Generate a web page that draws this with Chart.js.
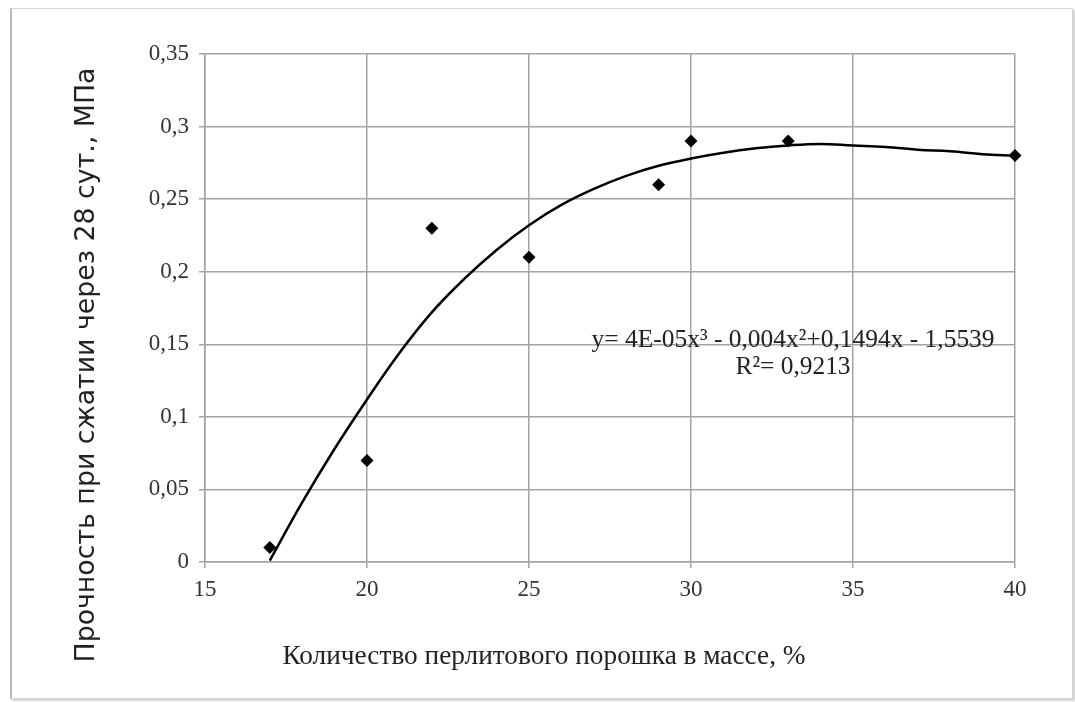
<!DOCTYPE html>
<html>
<head>
<meta charset="utf-8">
<script src="https://cdn.jsdelivr.net/npm/chart.js@4/dist/chart.umd.min.js"></script>
<style>
  body { margin: 0; background: #fff; }
  #ramka {
    position: absolute; left: 10px; top: 8px; width: 1060px; height: 689px;
    border: 1px solid #d6d6d6;
    border-left: 2px solid #b8b8b8;
    box-shadow: 2px 2px 2px #cfcfcf;
  }
  #myChart { position: absolute; left: 0; top: 0; }
</style>
</head>
<body>
<div id="ramka"></div>
<canvas id="myChart" width="1075" height="702"></canvas>
<script>
// количество перлитового порошка, % и прочность, МПа
const kolichestvo = [17, 20, 22, 25, 29, 30, 33, 40];
const prochnost = [0.01, 0.07, 0.23, 0.21, 0.26, 0.29, 0.29, 0.28];

// линия тренда (полином 3-й степени), снятая по точкам
const trendX = [17, 18, 19, 20, 21, 22, 23, 24, 25, 26, 27, 28, 29, 30, 31, 32, 33, 34, 35, 36, 37, 38, 39, 40];
const trendY = [0.001, 0.041, 0.078, 0.112, 0.144, 0.172, 0.195, 0.215, 0.232, 0.246, 0.257, 0.266, 0.273, 0.278,
  0.282, 0.285, 0.287, 0.288, 0.287, 0.286, 0.284, 0.283, 0.281, 0.280];

const ejeX = [15, 20, 25, 30, 35, 40];
const ejeY = [0, 0.05, 0.1, 0.15, 0.2, 0.25, 0.3, 0.35];

const tituloX = "Количество перлитового порошка в массе, %";
const tituloY = "Прочность при сжатии через 28 сут., МПа";
const ecuacion = "y= 4E-05x³ - 0,004x²+0,1494x - 1,5539";
const r2 = "R²= 0,9213";

const colorGrid = "#a3a3a3";
const fuenteSerif = "'Liberation Serif', 'Times New Roman', serif";

function coma(v) {
  return String(+v.toFixed(2)).replace(".", ",");
}

// подписи осей и уравнение тренда
const textos = {
  id: "textos",
  afterDraw(chart) {
    const ctx = chart.ctx;
    const sx = chart.scales.x;
    const sy = chart.scales.y;
    ctx.save();
    ctx.fillStyle = "#222";
    ctx.textAlign = "center";
    ctx.textBaseline = "middle";

    ctx.font = "28px " + fuenteSerif;
    ctx.fillText(tituloX, 544, 657, 523);

    ctx.save();
    ctx.translate(87, 365);
    ctx.rotate(-Math.PI / 2);
    ctx.font = "27px 'DejaVu Sans', sans-serif";
    ctx.fillText(tituloY, 0, 0, 595);
    ctx.restore();

    const ex = sx.getPixelForValue(33.15);
    const ey = sy.getPixelForValue(0.153);
    ctx.font = "26px " + fuenteSerif;
    ctx.fillText(ecuacion, ex, ey, 403);
    ctx.fillText(r2, ex, ey + 27, 115);
    ctx.restore();
  }
};

const config = {
  type: "scatter",
  data: {
    datasets: [
      {
        label: "Прочность",
        data: kolichestvo.map((x, i) => ({ x: x, y: prochnost[i] })),
        pointStyle: "rectRot",
        pointRadius: 6.5,
        backgroundColor: "#000",
        borderColor: "#000",
        borderWidth: 0,
        showLine: false,
        clip: false
      },
      {
        label: "Полиномиальная",
        data: trendX.map((x, i) => ({ x: x, y: trendY[i] })),
        showLine: true,
        pointRadius: 0,
        borderColor: "#000",
        borderWidth: 2.5,
        tension: 0.4,
        fill: false
      }
    ]
  },
  options: {
    responsive: false,
    animation: false,
    layout: { padding: { left: 0, top: 54, right: 60, bottom: 0 } },
    plugins: { legend: { display: false }, tooltip: { enabled: false } },
    scales: {
      x: {
        type: "linear",
        min: ejeX[0],
        max: ejeX[ejeX.length - 1],
        afterBuildTicks: (s) => { s.ticks = ejeX.map(v => ({ value: v })); },
        afterFit: (s) => { s.height = 140; },
        grid: { color: colorGrid, lineWidth: 1.5, tickLength: 6 },
        border: { color: colorGrid, width: 1.5 },
        ticks: { color: "#333", padding: 8, font: { family: fuenteSerif, size: 23 } }
      },
      y: {
        min: ejeY[0],
        max: ejeY[ejeY.length - 1],
        afterBuildTicks: (s) => { s.ticks = ejeY.map(v => ({ value: v })); },
        afterFit: (s) => { s.width = 205; },
        grid: { color: colorGrid, lineWidth: 1.5, tickLength: 6 },
        border: { color: colorGrid, width: 1.5 },
        ticks: { color: "#333", padding: 10, font: { family: fuenteSerif, size: 23 }, callback: (v) => coma(v) }
      }
    }
  },
  plugins: [textos]
};

new Chart(document.getElementById("myChart"), config);
</script>
</body>
</html>
